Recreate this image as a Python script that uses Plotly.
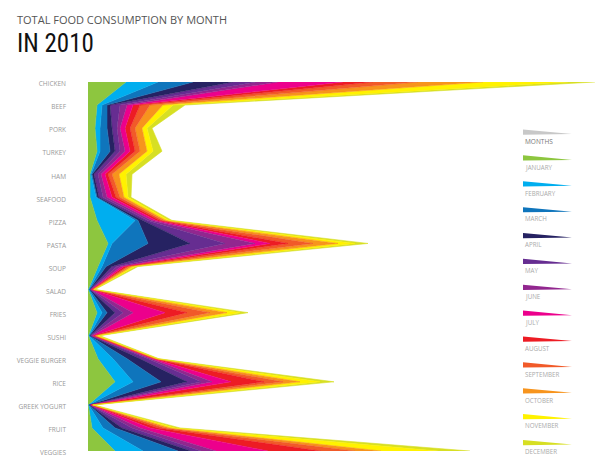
import plotly.graph_objects as go

foods = ["CHICKEN", "BEEF", "PORK", "TURKEY", "HAM", "SEAFOOD", "PIZZA", "PASTA", "SOUP",
         "SALAD", "FRIES", "SUSHI", "VEGGIE BURGER", "RICE", "GREEK YOGURT", "FRUIT", "VEGGIES"]

months = ["JANUARY", "FEBRUARY", "MARCH", "APRIL", "MAY", "JUNE", "JULY", "AUGUST",
          "SEPTEMBER", "OCTOBER", "NOVEMBER", "DECEMBER"]

month_colors = ["#8dc63f", "#00aeef", "#0f75bc", "#262262", "#662d91", "#92278f",
                "#ec008c", "#ed1c24", "#f15a29", "#f7941d", "#fff200", "#d7df23"]

# consumption per food, one list per month (food order as above)
jan = [38, 9, 7, 9, 2, 2, 9, 20, 10, 0.3, 9, 0.5, 10, 27, 0.3, 4, 27]
feb = [32, 5, 5, 3, 1, 6, 38, 4, 4, 0.5, 5, 0.5, 15, 18, 0.3, 11, 28]
mar = [35, 5, 7, 10, 1, 1, 3, 36, 4, 0.7, 5, 0.5, 14, 28, 0.4, 12, 35]
apr = [40, 3, 5, 5, 2, 2, 5, 42, 6, 0.5, 8, 0.5, 13, 26, 0.5, 7, 13]
may = [23, 10, 5, 5, 4, 4, 5, 35, 5, 0.5, 8, 1, 8, 14, 0.5, 10, 10]
jun = [22, 7, 3, 5, 3, 4, 4, 30, 4, 0.5, 10, 1, 3, 11, 0.5, 8, 15]
jul = [65, 6, 5, 5, 4, 5, 4, 15, 3, 0.5, 32, 1, 2, 19, 0.5, 10, 52]
aug = [30, 7, 5, 5, 3, 4, 4, 18, 3, 0.5, 22, 1, 1, 33, 0.5, 8, 53]
sep = [45, 10, 5, 5, 4, 4, 3, 25, 2, 0.5, 23, 1, 1, 19, 0.5, 7, 34]
oct_ = [65, 13, 7, 7, 7, 4, 3, 25, 3, 1, 17, 1, 2, 17, 0.5, 5, 26]
nov = [85, 10, 5, 6, 7, 4, 3, 17, 3, 0.8, 13, 2, 1, 20, 0.5, 5, 57]
dec = [27, 12, 5, 9, 6, 3, 3, 13, 3, 0.7, 8, 2, 1, 14, 1, 5, 32]

series = [jan, feb, mar, apr, may, jun, jul, aug, sep, oct_, nov, dec]

W, H = 611, 475
ML, MR, MT, MB = 88, 11, 82, 24
PW, PH = W - ML - MR, H - MT - MB

fig = go.Figure()
for name, vals, col in zip(months, series, month_colors):
    fig.add_trace(go.Scatter(
        x=vals, y=foods, name=name, orientation="h", stackgroup="food",
        mode="lines", line=dict(width=0.6, color=col, shape="linear"),
        fillcolor=col, hoverinfo="skip", showlegend=False))


def px(x):
    return (x - ML) / PW


def py(y):
    return 1 - (y - MT) / PH


shapes = []
annotations = []
legend_items = [("MONTHS", "#c8c8c8")] + list(zip(months, month_colors))
for k, (lab, col) in enumerate(legend_items):
    top = 129.5 + k * 25.87
    path = "M {:.4f},{:.4f} L {:.4f},{:.4f} L {:.4f},{:.4f} Z".format(
        px(523), py(top), px(572), py(top + 4.6), px(523), py(top + 5.2))
    shapes.append(dict(type="path", xref="paper", yref="paper", path=path,
                       fillcolor=col, line=dict(width=0), layer="above"))
    annotations.append(dict(
        x=px(522.5), y=py(top + 11.8), xref="paper", yref="paper", text=lab,
        showarrow=False, xanchor="left", yanchor="middle",
        font=dict(family="Open Sans", size=6.2 if lab != "MONTHS" else 6.5,
                  color="#aaaaaa" if lab != "MONTHS" else "#777777")))

annotations.append(dict(
    x=px(15), y=py(19), xref="paper", yref="paper",
    text="TOTAL FOOD CONSUMPTION BY MONTH", showarrow=False,
    xanchor="left", yanchor="middle",
    font=dict(family="Open Sans", size=11, color="#555555")))
annotations.append(dict(
    x=px(15), y=py(43.5), xref="paper", yref="paper",
    text="IN 2010", showarrow=False, xanchor="left", yanchor="middle",
    font=dict(family="Roboto Condensed", size=25, color="#111111")))

fig.update_layout(
    width=W, height=H,
    margin=dict(l=ML, r=MR, t=MT, b=MB, pad=0),
    paper_bgcolor="white", plot_bgcolor="white",
    xaxis=dict(range=[0, PW], visible=False, showgrid=False, zeroline=False),
    yaxis=dict(type="category", categoryorder="array", categoryarray=foods,
               range=[16, 0], showgrid=False, zeroline=False, showline=False,
               ticks="", ticklabelstandoff=21, ticklabelshift=-2,
               tickfont=dict(family="Open Sans", size=6.5, color="#999999")),
    shapes=shapes, annotations=annotations,
)

fig.write_html("out.html", config={"displayModeBar": False},
               post_script="document.body.style.margin='0';")
